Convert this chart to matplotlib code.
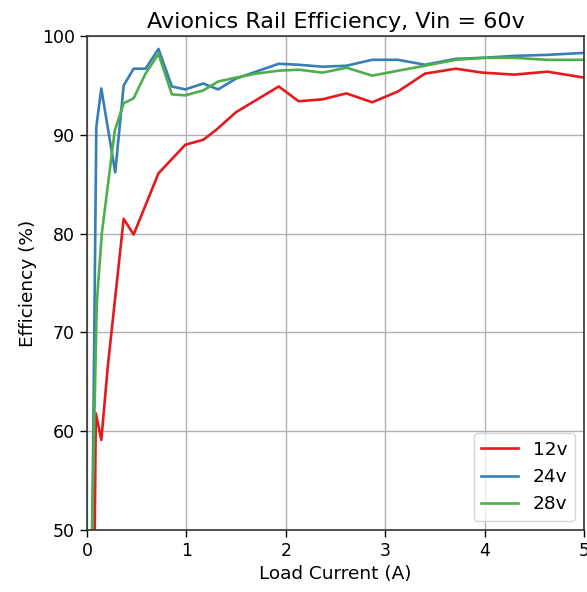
import numpy as np
import matplotlib
matplotlib.use('Agg')
import matplotlib.pyplot as plt

# load current (A) / efficiency (%)
i_12v = [0.07, 0.09, 0.145, 0.21, 0.37, 0.47, 0.72, 0.99, 1.17, 1.30, 1.50, 1.93,
         2.13, 2.37, 2.61, 2.87, 3.13, 3.40, 3.71, 3.98, 4.30, 4.63, 5.0]
eff_12v = [40, 61.8, 59.1, 66.5, 81.5, 79.9, 86.1, 89.0, 89.5, 90.5, 92.3, 94.9,
           93.4, 93.6, 94.2, 93.3, 94.4, 96.2, 96.7, 96.3, 96.1, 96.4, 95.8]

i_24v = [0.045, 0.095, 0.145, 0.285, 0.37, 0.47, 0.59, 0.72, 0.855, 0.99, 1.17, 1.32,
         1.50, 1.70, 1.93, 2.13, 2.37, 2.61, 2.87, 3.13, 3.40, 3.71, 3.98, 4.30, 4.63, 5.0]
eff_24v = [40, 90.8, 94.7, 86.2, 95.0, 96.7, 96.7, 98.7, 94.9, 94.6, 95.2, 94.6,
           95.7, 96.4, 97.2, 97.1, 96.9, 97.0, 97.6, 97.6, 97.1, 97.7, 97.8, 98.0, 98.1, 98.3]

i_28v = [0.03, 0.1, 0.15, 0.28, 0.37, 0.47, 0.59, 0.72, 0.855, 0.99, 1.17, 1.32,
         1.50, 1.70, 1.93, 2.13, 2.37, 2.61, 2.87, 3.13, 3.40, 3.71, 3.98, 4.30, 4.63, 5.0]
eff_28v = [40, 73.0, 80.0, 90.4, 93.2, 93.7, 96.2, 98.2, 94.1, 94.0, 94.5, 95.4,
           95.8, 96.2, 96.5, 96.6, 96.3, 96.8, 96.0, 96.5, 97.0, 97.6, 97.8, 97.8, 97.6, 97.6]

plt.rcParams['font.size'] = 12.5

fig = plt.figure(figsize=(5.87, 5.92), dpi=100)
ax = fig.add_axes([0.148, 0.105, 0.847, 0.834])

ax.plot(i_12v, eff_12v, color='#e41a1c', lw=1.9, label='12v')
ax.plot(i_24v, eff_24v, color='#377eb8', lw=1.9, label='24v')
ax.plot(i_28v, eff_28v, color='#4daf4a', lw=1.9, label='28v')

ax.set_xlim(0, 5)
ax.set_ylim(50, 100)
ax.set_xticks(np.arange(0, 6, 1))
ax.set_yticks(np.arange(50, 101, 10))
ax.grid(True, color='#b0b0b0', lw=1.0)
ax.tick_params(length=5, width=1.0)
for s in ax.spines.values():
    s.set_linewidth(1.2)
    s.set_color('#333333')

ax.set_xlabel('Load Current (A)', fontsize=13.3)
ax.set_ylabel('Efficiency (%)', fontsize=13.3)
ax.set_title('Avionics Rail Efficiency, Vin = 60v', fontsize=16)
ax.legend(loc='lower right', fontsize=13.3)

fig.savefig('out.png', dpi=100)
